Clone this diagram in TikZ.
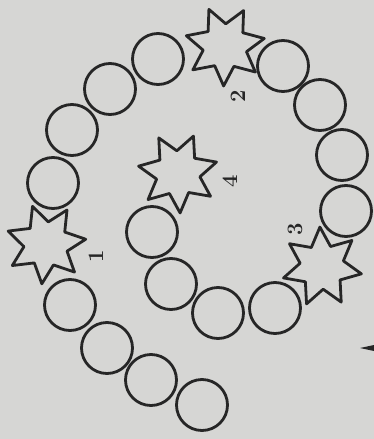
\documentclass[tikz,border=0pt]{standalone}
\usepackage{tikz}
\usetikzlibrary{shapes.geometric}
\definecolor{cPaper}{RGB}{214,214,212}
\definecolor{cInk}{RGB}{38,38,38}
\tikzset{
	bead/.style     ={circle, draw=cInk, line width=2.8pt, minimum size=51pt, inner sep=0pt},
	septstar/.style ={star, star points=7, star point ratio=1.8, draw=cInk, line width=2.8pt, minimum size=80pt, inner sep=0pt, line join=round},
	numlbl/.style   ={text=cInk, font=\fontsize{22}{24}\selectfont\bfseries, rotate=90, inner sep=0pt},
}
\begin{document}
\begin{tikzpicture}[x=1pt, y=-1pt]
			\fill[cPaper] (0,0) rectangle (374,439);
			% outer arm, from the lower end round to the top
			\node[bead] (c1) at (202,405) {};
			\node[bead] (c2) at (151,380) {};
			\node[bead] (c3) at (107,348) {};
			\node[bead] (c4) at (70,305) {};
			\node[septstar, shape border rotate=174] (s1) at (46,244) {};
			\node[bead] (c5) at (53,183) {};
			\node[bead] (c6) at (72,130) {};
			\node[bead] (c7) at (110,89) {};
			\node[bead] (c8) at (158,59) {};
			\node[septstar, shape border rotate=178] (s2) at (225,46) {};
			\node[bead] (c9) at (283,66) {};
			\node[bead] (c10) at (320,105) {};
			\node[bead] (c11) at (342,155) {};
			\node[bead] (c12) at (346,211) {};
			\node[septstar, shape border rotate=3] (s3) at (322,267) {};
			% inner arm
			\node[bead] (c13) at (275,308) {};
			\node[bead] (c14) at (218,313) {};
			\node[bead] (c15) at (171,284) {};
			\node[bead] (c16) at (152,232) {};
			\node[septstar, shape border rotate=183] (s4) at (178,173) {};
			% numbers
			\node[numlbl] (l1) at (96,256) {1};
			\node[numlbl] (l2) at (238,96) {2};
			\node[numlbl] (l3) at (295,229) {3};
			\node[numlbl] (l4) at (230,181) {4};
			% cut-off mark at the edge
			\fill[cInk] (360,348) -- (374,345) -- (374,351) -- cycle;
		\end{tikzpicture}
\end{document}
